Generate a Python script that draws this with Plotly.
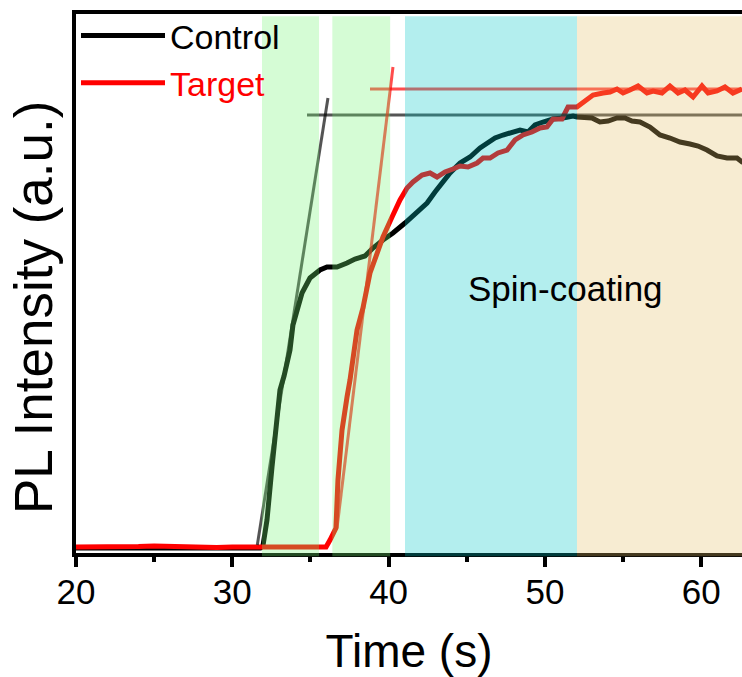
import plotly.graph_objects as go

# Time axis (s) and PL intensity (arbitrary units) for the two samples
control_t = [20, 21, 22, 23, 24, 25, 26, 27, 28, 29, 30, 31, 31.8,
             31.96, 32.22, 32.54, 32.80, 33.05, 33.31, 33.50, 33.69, 33.88, 34.14,
             34.46, 34.97, 35.61, 36.06, 36.70, 37.34, 37.85, 38.49, 39.00, 39.64,
             40.28, 41.05, 41.82, 42.46, 42.97, 43.42, 43.93, 44.57, 45.21, 45.85,
             46.30, 46.81, 47.32, 47.90, 48.41, 48.92, 49.37, 49.88, 50.52, 51.16,
             51.80, 52.05, 53.01, 53.52, 54.04, 54.61, 55.12, 55.57, 56.08, 56.72,
             57.36, 58.00, 58.64, 59.28, 59.80, 60.37, 61.01, 61.65, 62.29, 62.61, 63.0]
control_i = [5, 5, 5, 5.5, 5, 5, 5.5, 5, 5, 5.5, 5, 5, 5,
             7, 33, 86, 130, 163, 177, 188, 203, 228, 243,
             260, 275, 283, 286, 286, 290, 294, 297, 305, 313,
             320, 330, 341, 350, 361, 370, 380, 390, 396, 405,
             410, 415, 418, 420, 423, 421, 428, 431, 434, 435,
             437, 436, 435, 431, 432, 435, 435, 432, 431, 426,
             418, 415, 411, 409, 407, 403, 397, 395, 395, 391, 390]

target_t = [20, 21, 22, 23, 24, 25, 26, 27, 28, 29, 30, 31, 32, 33, 34, 35, 35.6,
            36.0, 36.25, 36.63, 36.76, 36.89, 37.02, 37.34, 37.53, 37.98,
            38.36, 38.81, 39.26, 39.64, 40.22, 40.73, 41.18, 41.56, 42.14, 42.65,
            43.10, 43.61, 44.12, 44.57, 45.08, 45.66, 46.04, 46.49, 47.00, 47.58,
            48.09, 48.60, 49.17, 49.69, 50.13, 50.52, 51.09, 51.48, 52.05, 52.69,
            53.08, 53.72, 54.17, 54.61, 55.00, 55.44, 55.96, 56.53, 56.92, 57.49,
            58.00, 58.52, 58.96, 59.48, 60.05, 60.44, 61.01, 61.52, 62.03, 62.61]
target_i = [6, 6, 5.5, 6, 6.5, 7, 6.5, 6, 6, 5.5, 6, 6, 7, 7, 7, 6, 6.5,
            6, 13, 25, 73, 108, 123, 156, 173, 223,
            245, 280, 300, 316, 336, 353, 365, 371, 378, 380,
            376, 381, 384, 387, 386, 390, 395, 395, 400, 403,
            413, 418, 421, 425, 426, 434, 434, 446, 446, 453,
            458, 460, 461, 464, 460, 463, 467, 460, 462, 460,
            467, 460, 463, 456, 467, 460, 462, 466, 460, 464]

# Onset tangents and plateau levels (time, intensity)
control_tangent_t = [31.6, 36.12]
control_tangent_i = [8, 455]
target_tangent_t = [36.7, 40.28]
target_tangent_i = [25, 486]
control_plateau_t = [34.78, 63.0]
control_plateau_i = [438, 438]
target_plateau_t = [38.81, 63.0]
target_plateau_i = [464, 464]

# Process stages shaded along the time axis
stage_starts = [31.9, 36.4, 41.05, 52.05]
stage_ends = [35.55, 40.1, 52.05, 63.0]
stage_colors = ["rgba(115,245,115,0.3)", "rgba(115,245,115,0.3)",
                "rgba(2,199,199,0.3)", "rgba(229,192,105,0.3)"]

stage_label = "Spin-coating"
stage_label_t = 51.3
stage_label_i = 265

X_RANGE = [20, 62.61]
Y_RANGE = [0, 539]
FONT = "Liberation Sans, Arial, sans-serif"

fig = go.Figure()

fig.add_trace(go.Scatter(x=control_t, y=control_i, mode="lines", name="Control",
                         line=dict(color="black", width=5)))
fig.add_trace(go.Scatter(x=target_t, y=target_i, mode="lines",
                         name='<span style="color:red">Target</span>',
                         line=dict(color="red", width=5)))

# Tangent and plateau guide lines
for tx, ti, col in [(control_tangent_t, control_tangent_i, "rgba(0,0,0,0.67)"),
                    (control_plateau_t, control_plateau_i, "rgba(0,0,0,0.67)"),
                    (target_tangent_t, target_tangent_i, "rgba(255,0,0,0.7)"),
                    (target_plateau_t, target_plateau_i, "rgba(255,0,0,0.7)")]:
    fig.add_trace(go.Scatter(x=tx, y=ti, mode="lines", showlegend=False,
                             line=dict(color=col, width=3)))

# Translucent stage bands laid over the curves
for x0, x1, col in zip(stage_starts, stage_ends, stage_colors):
    fig.add_shape(type="rect", xref="x", yref="paper", x0=x0, x1=x1,
                  y0=-0.006, y1=0.996, fillcolor=col, line_width=0, layer="above")

fig.add_annotation(x=stage_label_t, y=stage_label_i, text=stage_label, showarrow=False,
                   font=dict(family=FONT, size=35, color="black"))

# Vertical axis title
fig.add_annotation(xref="paper", yref="paper", x=-0.0646, y=0.4564,
                   xanchor="center", yanchor="middle", textangle=-90,
                   text="PL Intensity (a.u.)", showarrow=False,
                   font=dict(family=FONT, size=53, color="black"))

fig.update_layout(
    width=742, height=677,
    margin=dict(l=76, r=0, t=14, b=124),
    paper_bgcolor="white", plot_bgcolor="white",
    font=dict(family=FONT, color="black"),
    showlegend=True,
    legend=dict(x=0, y=1.013, xanchor="left", yanchor="top",
                bgcolor="rgba(0,0,0,0)",
                font=dict(family=FONT, size=34, color="black"),
                itemwidth=84, tracegroupgap=0),
    xaxis=dict(range=X_RANGE, showgrid=False, zeroline=False,
               showline=True, linewidth=4, linecolor="black", mirror=True,
               ticks="outside", ticklen=10, tickwidth=4, tickcolor="black",
               dtick=10, tick0=20, ticklabelstandoff=-5,
               minor=dict(ticks="outside", ticklen=5, tickwidth=4, dtick=5,
                          tickcolor="black", showgrid=False),
               tickfont=dict(family=FONT, size=35, color="black"),
               title=dict(text="Time (s)", font=dict(family=FONT, size=46, color="black"),
                          standoff=30)),
    yaxis=dict(range=Y_RANGE, showgrid=False, zeroline=False,
               showline=True, linewidth=4, linecolor="black", mirror=False,
               ticks="", showticklabels=False),
)

fig.write_html("out.html")
